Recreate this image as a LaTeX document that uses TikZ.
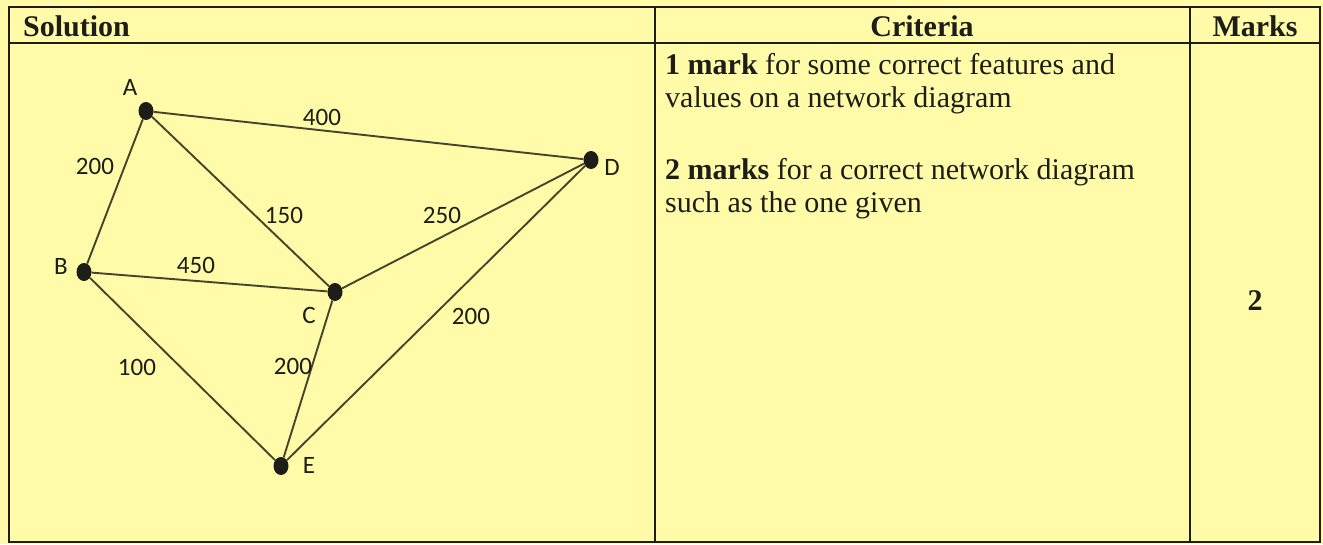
\documentclass[tikz,border=0pt]{standalone}
\usepackage{fontspec}
\setmainfont{Liberation Serif}
\newfontfamily\lblfont{Carlito}
\usetikzlibrary{shapes.geometric}
\definecolor{paper}{RGB}{255,251,168}
\definecolor{ink}{RGB}{30,30,24}
\definecolor{edgecol}{RGB}{70,68,42}
\begin{document}
\begin{tikzpicture}[x=1pt,y=-1pt,
  vertex/.style={shape=ellipse,fill=ink,minimum width=15pt,minimum height=18pt,inner sep=0pt},
  lbl/.style={font=\lblfont\fontsize{25}{25}\selectfont,text=ink,inner sep=0pt},
  edgeline/.style={draw=edgecol,line width=1.9pt},
  hdr/.style={font=\bfseries\fontsize{30}{30}\selectfont,text=ink,inner sep=0pt,anchor=base},
  body/.style={font=\fontsize{30}{33}\selectfont,text=ink,inner sep=0pt,anchor=base west},
  tablerule/.style={draw=ink,line width=1.5pt}]
\useasboundingbox (0,0) rectangle (1323,544);
\fill[paper] (0,0) rectangle (1323,544);
% table
\draw[tablerule] (9,7) rectangle (1320,542);
\draw[tablerule] (9,43) -- (1320,43);
\draw[tablerule] (655,7) -- (655,542);
\draw[tablerule] (1190,7) -- (1190,542);
% headers
\node[hdr,anchor=base west] (hsol) at (23,36) {Solution};
\node[hdr] (hcrit) at (922,36) {Criteria};
\node[hdr] (hmarks) at (1255,36) {Marks};
% criteria text
\node[body] (c1) at (665,74) {\textbf{1 mark} for some correct features and};
\node[body] (c2) at (665,107) {values on a network diagram};
\node[body] (c3) at (665,179) {\textbf{2 marks} for a correct network diagram};
\node[body] (c4) at (665,212) {such as the one given};
\node[hdr] (mk) at (1255,310) {2};
% network
\node[vertex] (A) at (146,111) {};
\node[vertex] (B) at (84,272) {};
\node[vertex] (C) at (335,292) {};
\node[vertex] (D) at (591,160) {};
\node[vertex] (E) at (281,466) {};
\draw[edgeline] (A) -- (D);
\draw[edgeline] (A) -- (B);
\draw[edgeline] (A) -- (C);
\draw[edgeline] (B) -- (C);
\draw[edgeline] (C) -- (D);
\draw[edgeline] (D) -- (E);
\draw[edgeline] (B) -- (E);
\draw[edgeline] (C) -- (E);
\node[lbl] (lA) at (130,87) {A};
\node[lbl] (lB) at (61,266) {B};
\node[lbl] (lC) at (309,315) {C};
\node[lbl] (lD) at (612,167) {D};
\node[lbl] (lE) at (309,465) {E};
\node[lbl] (wAD) at (322,117) {400};
\node[lbl] (wAB) at (95,166) {200};
\node[lbl] (wAC) at (284,215) {150};
\node[lbl] (wCD) at (442,215) {250};
\node[lbl] (wBC) at (196,265) {450};
\node[lbl] (wDE) at (471,316) {200};
\node[lbl] (wBE) at (137,367) {100};
\node[lbl] (wCE) at (293,366) {200};
\end{tikzpicture}
\end{document}
